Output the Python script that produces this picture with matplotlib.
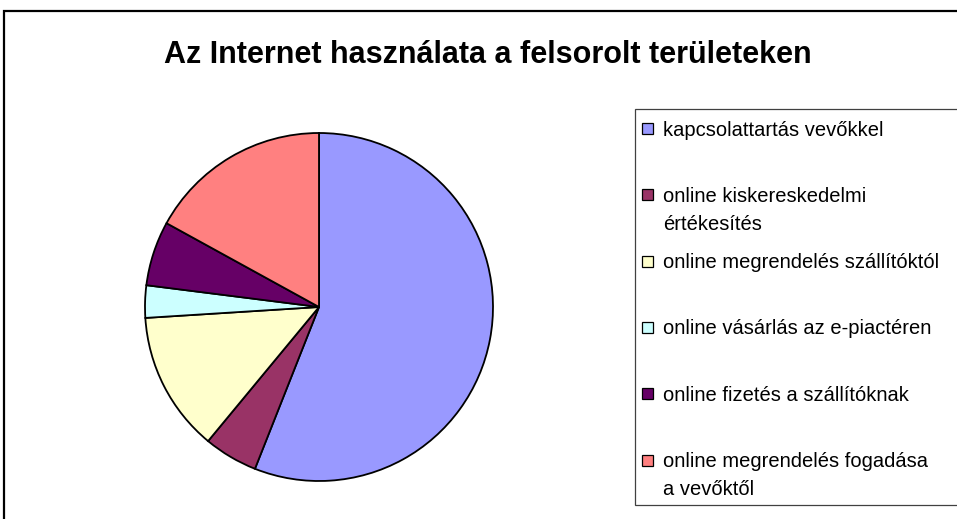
import matplotlib.pyplot as plt
from matplotlib.patches import Rectangle

kategoriak = ["kapcsolattartás vevőkkel",
              "online kiskereskedelmi\nértékesítés",
              "online megrendelés szállítóktól",
              "online vásárlás az e-piactéren",
              "online fizetés a szállítóknak",
              "online megrendelés fogadása\na vevőktől"]
ertekek = [56, 5, 13, 3, 6, 17]
szinek = ["#9999FF", "#993366", "#FFFFCC", "#CCFFFF", "#660066", "#FF8080"]

W, H = 957, 519
plt.rcParams['font.family'] = ['Liberation Sans', 'DejaVu Sans']


def fx(x):
    return x / W


def fy(y):
    return 1 - y / H


fig = plt.figure(figsize=(W / 100, H / 100), dpi=100)

# kulso keret
fig.patches.append(Rectangle((fx(4), fy(530)), fx(970) - fx(4), fy(11) - fy(530),
                             transform=fig.transFigure, fill=False,
                             edgecolor='black', linewidth=1.6, clip_on=False))

fig.text(fx(488), fy(55), "Az Internet használata a felsorolt területeken",
         ha='center', va='center', fontsize=22, fontweight='bold')

# kordiagram
ax = fig.add_axes([fx(145), fy(481), fx(493) - fx(145), fy(133) - fy(481)])
ax.pie(ertekek, colors=szinek, startangle=90, counterclock=False,
       wedgeprops=dict(edgecolor='black', linewidth=1.3))
ax.set_xlim(-1, 1)
ax.set_ylim(-1, 1)
ax.set_aspect('equal')
ax.axis('off')

# jelmagyarazat
fig.patches.append(Rectangle((fx(635), fy(505)), fx(970) - fx(635), fy(109) - fy(505),
                             transform=fig.transFigure, fill=True, facecolor='white',
                             edgecolor='#404040', linewidth=0.9, clip_on=False))
for i, (nev, szin) in enumerate(zip(kategoriak, szinek)):
    yc = 128.5 + 66.3 * i
    fig.patches.append(Rectangle((fx(642), fy(yc + 5.5)), fx(653) - fx(642), fy(yc - 5.5) - fy(yc + 5.5),
                                 transform=fig.transFigure, facecolor=szin,
                                 edgecolor='black', linewidth=0.9))
    fig.text(fx(663), fy(yc - 8), nev, ha='left', va='top', fontsize=14.5,
             linespacing=1.6)

fig.savefig("out.png", dpi=100)
